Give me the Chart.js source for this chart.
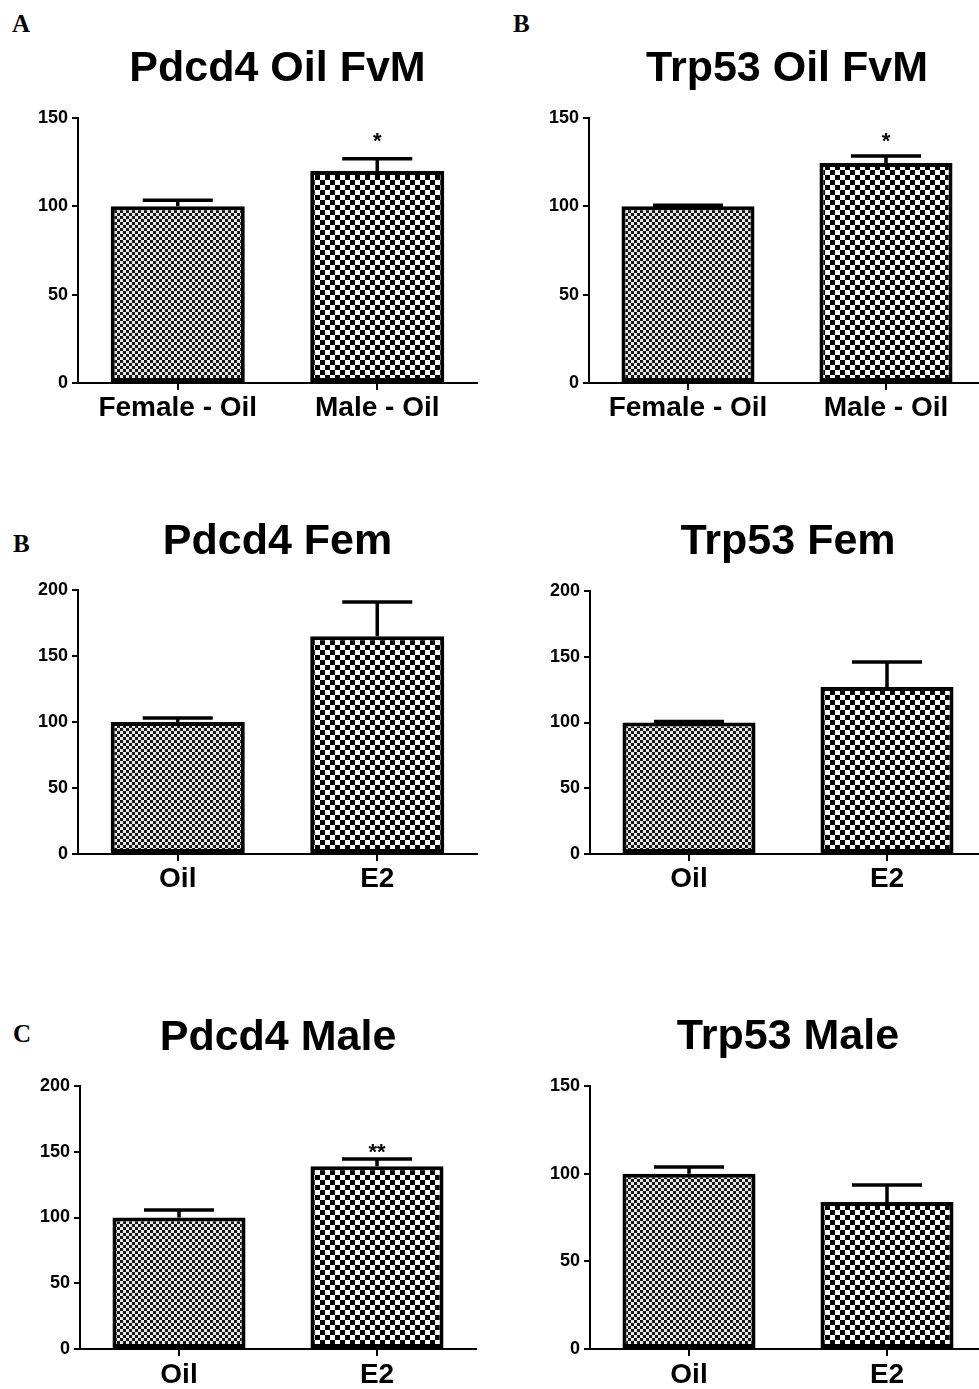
<!DOCTYPE html>
<html>
<head>
<meta charset="utf-8">
<script src="https://cdn.jsdelivr.net/npm/chart.js"></script>
<style>
  html, body { margin: 0; padding: 0; background: #fff; overflow: hidden; width: 979px; height: 1389px; }
  canvas { position: absolute; }
  .letra { position: absolute; font-family: "Liberation Serif", serif; font-weight: bold; font-size: 25px; line-height: 1; color: #000; }
</style>
</head>
<body>
<div class="letra" style="left:12px;top:11px">A</div>
<div class="letra" style="left:513px;top:11px">B</div>
<div class="letra" style="left:13px;top:531px">B</div>
<div class="letra" style="left:13px;top:1021px">C</div>

<canvas id="g1" width="490" height="440" style="left:0;top:0"></canvas>
<canvas id="g2" width="500" height="440" style="left:490px;top:0"></canvas>
<canvas id="g3" width="490" height="430" style="left:0;top:470px"></canvas>
<canvas id="g4" width="500" height="430" style="left:490px;top:470px"></canvas>
<canvas id="g5" width="490" height="429" style="left:0;top:960px"></canvas>
<canvas id="g6" width="500" height="429" style="left:490px;top:960px"></canvas>

<script>
// Categorias
const categoriasFvM = ['Female - Oil', 'Male - Oil'];
const categoriasTrat = ['Oil', 'E2'];

// Valores (média) e erro (só para cima)
const pdcd4OilFvM = [100, 120];
const pdcd4OilFvMErro = [3.5, 7];
const trp53OilFvM = [100, 124.5];
const trp53OilFvMErro = [0.6, 4];
const pdcd4Fem = [100, 165];
const pdcd4FemErro = [3, 26];
const trp53Fem = [100, 127];
const trp53FemErro = [0.8, 19];
const pdcd4Male = [100, 139];
const pdcd4MaleErro = [5.7, 5.5];
const trp53Male = [100, 83.8];
const trp53MaleErro = [3.8, 9.7];

// Eixo y
const maxY = [150, 150, 200, 200, 200, 150];
const passoY = 50;

// Asteriscos de significância
const marcasFvM = ['', '*'];
const marcasVazias = ['', ''];
const marcasMale = ['', '**'];
const posMarcasPdcd4FvM = [null, 136.4];
const posMarcasTrp53FvM = [null, 136.4];
const posMarcasPdcd4Male = [null, 149];

const fonte = '"Liberation Sans", Arial, sans-serif';

// Padrões xadrez (fino para a 1a barra, grosso para a 2a)
function criarPadrao(celula, cor1, cor2) {
    const c = document.createElement('canvas');
    c.width = celula * 2;
    c.height = celula * 2;
    const cx = c.getContext('2d');
    cx.fillStyle = cor2;
    cx.fillRect(0, 0, c.width, c.height);
    cx.fillStyle = cor1;
    cx.fillRect(0, 0, celula, celula);
    cx.fillRect(celula, celula, celula, celula);
    return cx.createPattern(c, 'repeat');
}

const padraoFino = criarPadrao(3, '#1a1a1a', '#e6e6e6');
const padraoGrosso = criarPadrao(5, '#000', '#fff');

// Plugin das barras de erro + asteriscos
const barrasErro = {
    id: 'barrasErro',
    afterDatasetsDraw(chart, args, opts) {
        const ctx = chart.ctx;
        const escalaY = chart.scales.y;
        const meta = chart.getDatasetMeta(0);
        const valores = chart.data.datasets[0].data;
        ctx.save();
        ctx.strokeStyle = '#000';
        ctx.lineWidth = 3.5;
        meta.data.forEach((barra, i) => {
            const topo = escalaY.getPixelForValue(valores[i] + opts.erros[i]);
            ctx.beginPath();
            ctx.moveTo(barra.x, barra.y);
            ctx.lineTo(barra.x, topo);
            ctx.moveTo(barra.x - 35, topo);
            ctx.lineTo(barra.x + 35, topo);
            ctx.stroke();
            if (opts.marcas[i]) {
                ctx.fillStyle = '#000';
                ctx.font = 'bold 22px ' + fonte;
                ctx.textAlign = 'center';
                ctx.textBaseline = 'middle';
                ctx.fillText(opts.marcas[i], barra.x, escalaY.getPixelForValue(opts.posMarcas[i]));
            }
        });
        ctx.restore();
    }
};

function criarGrafico(id, p) {
    new Chart(document.getElementById(id), {
        type: 'bar',
        data: {
            labels: p.categorias,
            datasets: [{
                data: p.valores,
                backgroundColor: [padraoFino, padraoGrosso],
                borderColor: '#000',
                borderWidth: 4,
                borderSkipped: false,
                barPercentage: 0.672,
                categoryPercentage: 1
            }]
        },
        options: {
            responsive: false,
            animation: false,
            layout: { padding: { left: 0, right: p.dir, top: 0, bottom: 0 } },
            plugins: {
                legend: { display: false },
                tooltip: { enabled: false },
                title: {
                    display: true,
                    text: p.titulo,
                    fullSize: false,
                    color: '#000',
                    font: { family: fonte, size: 43, weight: 'bold', lineHeight: 1.2 },
                    padding: { top: p.tTopo, bottom: p.tBaixo }
                },
                barrasErro: { erros: p.erros, marcas: p.marcas, posMarcas: p.posMarcas }
            },
            scales: {
                x: {
                    offset: true,
                    grid: { offset: false, drawOnChartArea: false, color: '#000', lineWidth: 2, tickLength: 7 },
                    border: { color: '#000', width: 2 },
                    ticks: { color: '#000', font: { family: fonte, size: 28, weight: 'bold' }, padding: p.padX, maxRotation: 0, autoSkip: false },
                    afterFit: s => { s.height = p.altX; }
                },
                y: {
                    min: 0,
                    max: p.max,
                    grid: { drawOnChartArea: false, color: '#000', lineWidth: 2, tickLength: 6 },
                    border: { color: '#000', width: 2 },
                    ticks: { stepSize: passoY, color: '#000', font: { family: fonte, size: 18, weight: 'bold' }, padding: 4 },
                    afterFit: s => { s.width = p.largY; }
                }
            }
        },
        plugins: [barrasErro]
    });
}

criarGrafico('g1', {
    titulo: 'Pdcd4 Oil FvM', categorias: categoriasFvM, valores: pdcd4OilFvM, erros: pdcd4OilFvMErro,
    marcas: marcasFvM, posMarcas: posMarcasPdcd4FvM, max: maxY[0],
    largY: 78, dir: 13, altX: 57, tTopo: 43.7, tBaixo: 22.7, padX: 1
});
criarGrafico('g2', {
    titulo: 'Trp53 Oil FvM', categorias: categoriasFvM, valores: trp53OilFvM, erros: trp53OilFvMErro,
    marcas: marcasFvM, posMarcas: posMarcasTrp53FvM, max: maxY[1],
    largY: 99, dir: 5, altX: 57, tTopo: 43.7, tBaixo: 22.7, padX: 1
});
criarGrafico('g3', {
    titulo: 'Pdcd4 Fem', categorias: categoriasTrat, valores: pdcd4Fem, erros: pdcd4FemErro,
    marcas: marcasVazias, posMarcas: [null, null], max: maxY[2],
    largY: 78, dir: 13, altX: 46, tTopo: 46.2, tBaixo: 22.2, padX: 1
});
criarGrafico('g4', {
    titulo: 'Trp53 Fem', categorias: categoriasTrat, valores: trp53Fem, erros: trp53FemErro,
    marcas: marcasVazias, posMarcas: [null, null], max: maxY[3],
    largY: 100, dir: 4, altX: 46, tTopo: 46.2, tBaixo: 23.2, padX: 1
});
criarGrafico('g5', {
    titulo: 'Pdcd4 Male', categorias: categoriasTrat, valores: pdcd4Male, erros: pdcd4MaleErro,
    marcas: marcasMale, posMarcas: posMarcasPdcd4Male, max: maxY[4],
    largY: 80, dir: 14, altX: 40, tTopo: 52.2, tBaixo: 22.2, padX: 2
});
criarGrafico('g6', {
    titulo: 'Trp53 Male', categorias: categoriasTrat, valores: trp53Male, erros: trp53MaleErro,
    marcas: marcasVazias, posMarcas: [null, null], max: maxY[5],
    largY: 100, dir: 4, altX: 40, tTopo: 51.2, tBaixo: 23.2, padX: 2
});
</script>
</body>
</html>
